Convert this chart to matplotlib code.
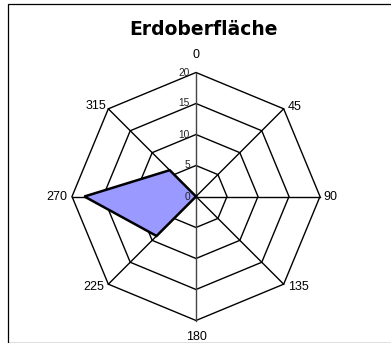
import numpy as np
import matplotlib
matplotlib.use("Agg")
import matplotlib.pyplot as plt
from matplotlib.patches import Rectangle, Polygon

# Direction categories (degrees) and measured values
directions = [0, 45, 90, 135, 180, 225, 270, 315]
values = [0, 0, 0, 0, 0, 9, 18, 6]
ring_levels = [0, 5, 10, 15, 20]
title = "Erdoberfläche"

W, H, DPI = 391, 343, 100
fig = plt.figure(figsize=(W / DPI, H / DPI), dpi=DPI)
fig.patch.set_facecolor("white")

# Axes spanning the figure; data units scaled so 20 units = 124 px
cx, cy = 196.0, 196.5
scale = 124.0 / 20.0
ax = fig.add_axes([0, 0, 1, 1])
ax.set_xlim(-cx / scale, (W - cx) / scale)
ax.set_ylim(-(H - cy) / scale, cy / scale)
ax.axis("off")

theta = np.deg2rad(directions)
sx, sy = np.sin(theta), np.cos(theta)

# Octagonal grid rings
for lvl in ring_levels[1:]:
    ax.add_patch(Polygon(np.column_stack([lvl * sx, lvl * sy]), closed=True,
                         fill=False, edgecolor="black", lw=1.0, zorder=1))

# Spokes
rmax = ring_levels[-1]
for i, d in enumerate(directions):
    col = "#444444" if d in (0, 180) else "black"
    ax.plot([0, rmax * sx[i]], [0, rmax * sy[i]], color=col, lw=1.0, zorder=1)

# Data polygon
v = np.array(values, dtype=float)
ax.add_patch(Polygon(np.column_stack([v * sx, v * sy]), closed=True,
                     facecolor="#9999FF", edgecolor="black", lw=1.8, zorder=3))

# Ring value labels along the vertical axis
for lvl in ring_levels:
    ax.annotate(str(lvl), (0, lvl), xytext=(-6, 0), textcoords="offset pixels",
                ha="right", va="center", fontsize=7.3, color="#222222",
                family="Liberation Sans", zorder=4)

# Direction labels around the outside
offsets = {0: (0, 18, "center"), 45: (4, 2, "left"), 90: (3, 0, "left"),
           135: (4, -3, "left"), 180: (0, -16, "center"), 225: (-4, -3, "right"),
           270: (-5, 0, "right"), 315: (-2, 3, "right")}
for i, d in enumerate(directions):
    dx, dy, ha = offsets[d]
    ax.annotate(str(d), (rmax * sx[i], rmax * sy[i]), xytext=(dx, dy),
                textcoords="offset pixels", ha=ha, va="center", fontsize=9,
                family="Liberation Sans", color="black")

fig.text(203 / W, 1 - 29.5 / H, title, ha="center", va="center",
         fontsize=13.5, fontweight="bold", family="DejaVu Sans")

# Chart area border
fig.add_artist(Rectangle((7.5 / W, 0.5 / H), 1.0, (H - 4.0) / H,
                         transform=fig.transFigure, fill=False,
                         edgecolor="black", lw=0.9))

fig.savefig("out.png", dpi=DPI, facecolor="white")
